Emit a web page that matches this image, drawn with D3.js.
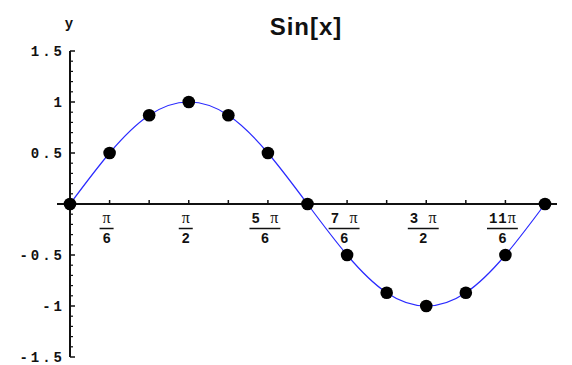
<!DOCTYPE html>
<html>
<head>
<meta charset="utf-8">
<script src="https://cdn.jsdelivr.net/npm/d3@7"></script>
<style>
  html, body { margin: 0; padding: 0; background: #fff; }
  svg { display: block; }
  .num { font-family: "Liberation Mono", "DejaVu Sans Mono", monospace; font-weight: bold; font-size: 14px; fill: #111; }
  .pi { font-family: "Liberation Serif", "DejaVu Serif", serif; font-size: 16px; fill: #111; }
</style>
</head>
<body>
<svg id="chart" width="572" height="365"></svg>
<script>
// Sample points of sin(x) at every multiple of π/6 over one period
const stepsOfPiSixth = [0, 1, 2, 3, 4, 5, 6, 7, 8, 9, 10, 11, 12];
const sinValues = [0, 0.5, 0.87, 1, 0.87, 0.5, 0, -0.5, -0.87, -1, -0.87, -0.5, 0];

// Labelled x ticks (in units of π/6) written as fractions
const xLabelSteps = [1, 3, 5, 7, 9, 11];
const xLabelCoef = ["", "", "5", "7", "3", "11"];
const xLabelDen = ["6", "2", "6", "6", "2", "6"];

// y axis labels
const yMajorTicks = [-1.5, -1, -0.5, 0.5, 1, 1.5];
const yMajorLabels = ["-1.5", "-1", "-0.5", "0.5", "1", "1.5"];

const svg = d3.select("#chart");
const x = d3.scaleLinear().domain([0, 2 * Math.PI]).range([70, 545]);
const y = d3.scaleLinear().domain([-1.5, 1.5]).range([357, 51]);

const data = stepsOfPiSixth.map((k, i) => ({ x: k * Math.PI / 6, y: sinValues[i] }));

// Title
svg.append("text")
  .attr("x", 306).attr("y", 35)
  .attr("text-anchor", "middle")
  .style("font-family", "'Liberation Sans', Arial, sans-serif")
  .style("font-weight", "bold")
  .style("font-size", "24px")
  .style("letter-spacing", "1px")
  .attr("fill", "#111")
  .text("Sin[x]");

// Axis name
svg.append("text").attr("class", "num")
  .attr("x", 69).attr("y", 28)
  .attr("text-anchor", "middle")
  .text("y");

// Curve through the sample points
svg.append("path")
  .datum(data)
  .attr("fill", "none")
  .attr("stroke", "#2a2aff")
  .attr("stroke-width", 1.2)
  .attr("d", d3.line().x(d => x(d.x)).y(d => y(d.y)).curve(d3.curveNatural));

// x axis
const x0 = y(0);
svg.append("line")
  .attr("x1", x.range()[0] - 13).attr("x2", x.range()[1] + 12)
  .attr("y1", x0).attr("y2", x0)
  .attr("stroke", "#111").attr("stroke-width", 2);

const xTickSteps = stepsOfPiSixth.filter(k => k > 0);
svg.selectAll(".xtick").data(xTickSteps).enter().append("line")
  .attr("x1", k => x(k * Math.PI / 6)).attr("x2", k => x(k * Math.PI / 6))
  .attr("y1", x0).attr("y2", x0 - 4)
  .attr("stroke", "#111").attr("stroke-width", 1.5);

// Fraction labels under the x axis
xLabelSteps.forEach((k, i) => {
  const cx = x(k * Math.PI / 6) - 3;
  const g = svg.append("g");
  const numer = g.append("text").attr("y", 223).attr("text-anchor", "middle");
  if (xLabelCoef[i]) {
    numer.append("tspan").attr("class", "num").style("letter-spacing", "1px")
      .text(xLabelCoef[i] + (xLabelCoef[i].length > 1 ? "" : " "));
  }
  numer.append("tspan").attr("class", "pi").text("π");
  numer.attr("x", cx);
  const w = numer.node().getComputedTextLength();
  const half = Math.max(7, w / 2 + 2);
  g.append("line")
    .attr("x1", cx - half).attr("x2", cx + half)
    .attr("y1", 228.5).attr("y2", 228.5)
    .attr("stroke", "#111").attr("stroke-width", 1.5);
  g.append("text").attr("class", "num")
    .attr("x", cx).attr("y", 243)
    .attr("text-anchor", "middle")
    .text(xLabelDen[i]);
});

// y axis
const y0x = x(0);
svg.append("line")
  .attr("x1", y0x).attr("x2", y0x)
  .attr("y1", y(1.5)).attr("y2", y(-1.5))
  .attr("stroke", "#111").attr("stroke-width", 2);

const minorTicks = d3.range(-15, 16).map(v => v / 10).filter(v => Math.abs(Math.round(v * 10) % 5) !== 0);
svg.selectAll(".yminor").data(minorTicks).enter().append("line")
  .attr("x1", y0x).attr("x2", y0x + 3)
  .attr("y1", d => y(d)).attr("y2", d => y(d))
  .attr("stroke", "#111").attr("stroke-width", 1.2);

svg.selectAll(".ymajor").data(yMajorTicks).enter().append("line")
  .attr("x1", y0x).attr("x2", y0x + 5)
  .attr("y1", d => y(d)).attr("y2", d => y(d))
  .attr("stroke", "#111").attr("stroke-width", 1.5);

const labelSpacing = 3;
svg.selectAll(".ylabel").data(yMajorTicks).enter().append("text")
  .attr("class", "num")
  .attr("x", y0x - 8 + labelSpacing).attr("y", d => y(d) + 5)
  .attr("text-anchor", "end")
  .style("letter-spacing", labelSpacing + "px")
  .text((d, i) => yMajorLabels[i]);

// Sample points
svg.selectAll(".pt").data(data).enter().append("circle")
  .attr("cx", d => x(d.x)).attr("cy", d => y(d.y))
  .attr("r", 6.3)
  .attr("fill", "#000");
</script>
</body>
</html>
